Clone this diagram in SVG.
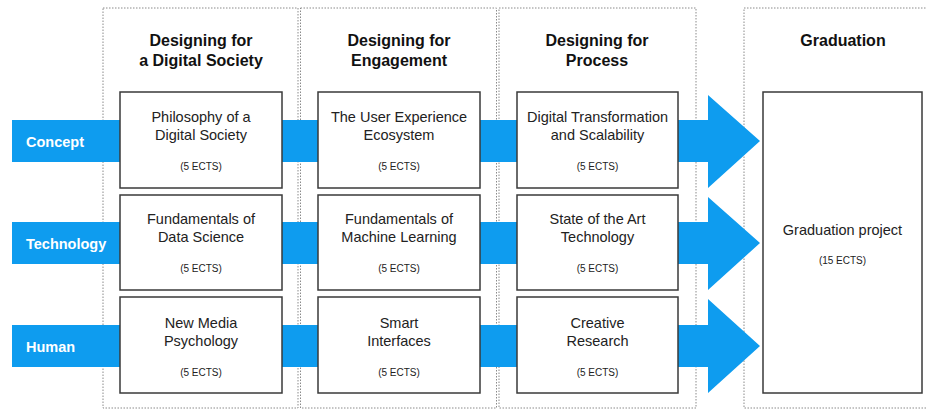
<svg xmlns="http://www.w3.org/2000/svg" width="927" height="410" viewBox="0 0 927 410">
<style>
.col{fill:none;stroke:#8a8a8a;stroke-width:1;stroke-dasharray:1.5 1.5}
.box{fill:#fff;stroke:#3a3a3a;stroke-width:1.5}
.band{fill:#0e9cef}
.hdr{font-family:"Liberation Sans",Arial,sans-serif;font-weight:bold;font-size:16px;fill:#111;text-anchor:middle}
.t{font-family:"Liberation Sans",Arial,sans-serif;font-size:14.5px;fill:#222;text-anchor:middle}
.e{font-family:"Liberation Sans",Arial,sans-serif;font-size:10px;fill:#222;text-anchor:middle}
.lbl{font-family:"Liberation Sans",Arial,sans-serif;font-weight:bold;font-size:14.5px;fill:#fff}
</style>
<rect width="927" height="410" fill="#fff"/>
<g id="columns">
<rect class="col" x="103" y="8" width="195" height="400"/>
<rect class="col" x="300.5" y="8" width="196" height="400"/>
<rect class="col" x="499" y="8" width="197" height="400"/>
<rect class="col" x="744" y="8" width="200" height="400"/>
<text class="hdr" x="201" y="46">Designing for</text>
<text class="hdr" x="201" y="66">a Digital Society</text>
<text class="hdr" x="399" y="46">Designing for</text>
<text class="hdr" x="399" y="66">Engagement</text>
<text class="hdr" x="597" y="46">Designing for</text>
<text class="hdr" x="597" y="66">Process</text>
<text class="hdr" x="843" y="46">Graduation</text>
</g>
<g id="connectors">
<path class="band" d="M12,120 H708 V95 L760,141 L708,188 V162 H12 Z"/>
<path class="band" d="M12,222 H708 V197 L760,243 L708,290 V264 H12 Z"/>
<path class="band" d="M12,325 H708 V299 L760,346 L708,393 V367 H12 Z"/>
<text class="lbl" x="26" y="147">Concept</text>
<text class="lbl" x="26" y="249">Technology</text>
<text class="lbl" x="26" y="352">Human</text>
</g>
<g id="n-philosophy"><rect class="box" x="120" y="92" width="162" height="96"/>
<text class="t" x="201" y="122">Philosophy of a</text><text class="t" x="201" y="140">Digital Society</text><text class="e" x="201" y="170">(5 ECTS)</text></g>
<g id="n-ux"><rect class="box" x="318" y="92" width="162" height="96"/>
<text class="t" x="399" y="122">The User Experience</text><text class="t" x="399" y="140">Ecosystem</text><text class="e" x="399" y="170">(5 ECTS)</text></g>
<g id="n-digital"><rect class="box" x="517" y="92" width="161" height="96"/>
<text class="t" x="597.5" y="122">Digital Transformation</text><text class="t" x="597.5" y="140">and Scalability</text><text class="e" x="597.5" y="170">(5 ECTS)</text></g>
<g id="n-datasci"><rect class="box" x="120" y="195" width="162" height="95"/>
<text class="t" x="201" y="224">Fundamentals of</text><text class="t" x="201" y="242">Data Science</text><text class="e" x="201" y="272">(5 ECTS)</text></g>
<g id="n-ml"><rect class="box" x="318" y="195" width="162" height="95"/>
<text class="t" x="399" y="224">Fundamentals of</text><text class="t" x="399" y="242">Machine Learning</text><text class="e" x="399" y="272">(5 ECTS)</text></g>
<g id="n-sota"><rect class="box" x="517" y="195" width="161" height="95"/>
<text class="t" x="597.5" y="224">State of the Art</text><text class="t" x="597.5" y="242">Technology</text><text class="e" x="597.5" y="272">(5 ECTS)</text></g>
<g id="n-nmp"><rect class="box" x="120" y="297" width="162" height="96"/>
<text class="t" x="201" y="328">New Media</text><text class="t" x="201" y="346">Psychology</text><text class="e" x="201" y="376">(5 ECTS)</text></g>
<g id="n-smart"><rect class="box" x="318" y="297" width="162" height="96"/>
<text class="t" x="399" y="328">Smart</text><text class="t" x="399" y="346">Interfaces</text><text class="e" x="399" y="376">(5 ECTS)</text></g>
<g id="n-creative"><rect class="box" x="517" y="297" width="161" height="96"/>
<text class="t" x="597.5" y="328">Creative</text><text class="t" x="597.5" y="346">Research</text><text class="e" x="597.5" y="376">(5 ECTS)</text></g>
<g id="n-graduation"><rect class="box" x="763" y="92" width="159" height="301"/>
<text class="t" x="842.5" y="235">Graduation project</text><text class="e" x="842.5" y="264">(15 ECTS)</text></g>
</svg>
